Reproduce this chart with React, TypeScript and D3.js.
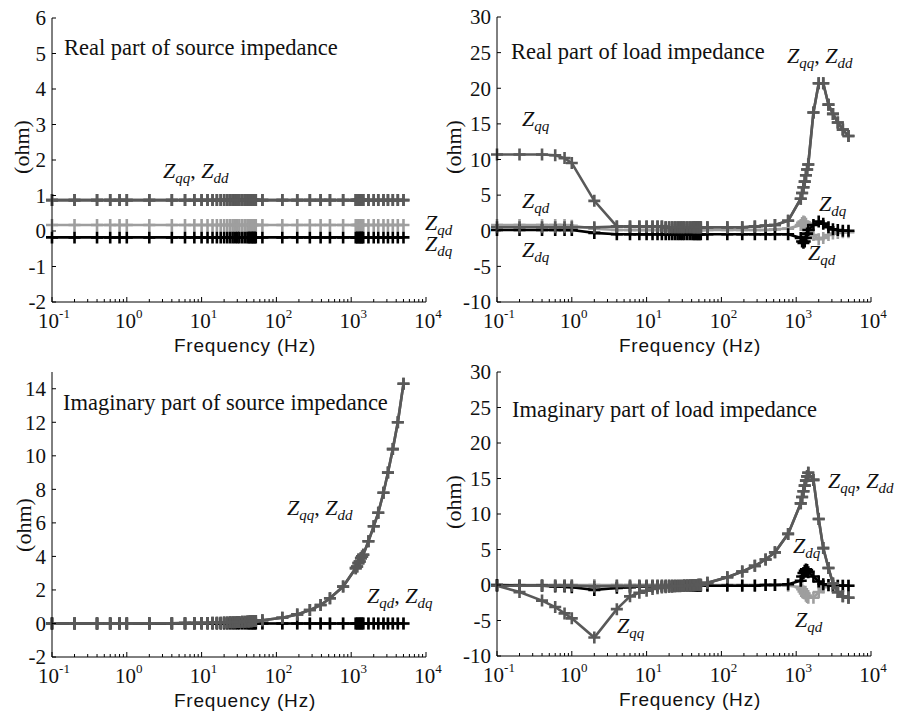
import React from "react";
import * as d3 from "d3";

// perturbation frequencies (Hz), shared by every panel
const FREQ = [
  0.1, 0.2, 0.4, 0.6, 0.8, 1,
  2, 4, 6, 8,
  10, 12, 14, 16, 18, 20, 22, 24, 26, 28, 30, 32, 35, 38,
  41, 43, 45, 47, 49, 51, 53,
  65, 120, 190, 280, 390, 520, 780,
  1150, 1200, 1250, 1300, 1350, 1400, 1450,
  1700, 2000, 2300, 2700, 3100, 3600, 4200, 5000,
];

// real part of source impedance
const srcReZqq = [
  0.87, 0.87, 0.87, 0.87, 0.87, 0.87,
  0.87, 0.87, 0.87, 0.87,
  0.87, 0.87, 0.87, 0.87, 0.87, 0.87, 0.87, 0.87, 0.87, 0.87, 0.87, 0.87, 0.87, 0.87,
  0.87, 0.87, 0.87, 0.87, 0.87, 0.87, 0.87,
  0.87, 0.87, 0.87, 0.87, 0.87, 0.87, 0.87,
  0.87, 0.87, 0.87, 0.87, 0.87, 0.87, 0.87,
  0.87, 0.87, 0.87, 0.87, 0.87, 0.87, 0.87, 0.87,
];
const srcReZdd = srcReZqq;
const srcReZqd = [
  0.17, 0.17, 0.17, 0.17, 0.17, 0.17,
  0.17, 0.17, 0.17, 0.17,
  0.17, 0.17, 0.17, 0.17, 0.17, 0.17, 0.17, 0.17, 0.17, 0.17, 0.17, 0.17, 0.17, 0.17,
  0.17, 0.17, 0.17, 0.17, 0.17, 0.17, 0.17,
  0.17, 0.17, 0.17, 0.17, 0.17, 0.17, 0.17,
  0.17, 0.17, 0.17, 0.17, 0.17, 0.17, 0.17,
  0.17, 0.17, 0.17, 0.17, 0.17, 0.17, 0.17, 0.17,
];
const srcReZdq = [
  -0.18, -0.18, -0.18, -0.18, -0.18, -0.18,
  -0.18, -0.18, -0.18, -0.18,
  -0.18, -0.18, -0.18, -0.18, -0.18, -0.18, -0.18, -0.18, -0.18, -0.18, -0.18, -0.18, -0.18, -0.18,
  -0.18, -0.18, -0.18, -0.18, -0.18, -0.18, -0.18,
  -0.18, -0.18, -0.18, -0.18, -0.18, -0.18, -0.18,
  -0.18, -0.18, -0.18, -0.18, -0.18, -0.18, -0.18,
  -0.18, -0.18, -0.18, -0.18, -0.18, -0.18, -0.18, -0.18,
];

// real part of load impedance
const loadReZqq = [
  10.7, 10.7, 10.7, 10.6, 10.2, 9.5,
  4.2, 0.6, 0.6, 0.6,
  0.6, 0.6, 0.6, 0.6, 0.5, 0.5, 0.5, 0.5, 0.5, 0.5, 0.5, 0.5, 0.5, 0.5,
  0.5, 0.5, 0.5, 0.5, 0.5, 0.5, 0.5,
  0.5, 0.5, 0.5, 0.6, 0.7, 0.8, 1.4,
  4.5, 5.3, 6.1, 6.9, 7.8, 8.6, 9.3,
  16.6, 20.7, 20.7, 17.7, 16.4, 15.2, 14.2, 13.3,
];
const loadReZdd = [
  0.5, 0.5, 0.5, 0.5, 0.5, 0.5,
  0.5, 0.6, 0.6, 0.6,
  0.6, 0.6, 0.6, 0.6, 0.5, 0.5, 0.5, 0.5, 0.5, 0.5, 0.5, 0.5, 0.5, 0.5,
  0.5, 0.5, 0.5, 0.5, 0.5, 0.5, 0.5,
  0.5, 0.5, 0.5, 0.6, 0.7, 0.8, 1.4,
  4.5, 5.3, 6.1, 6.9, 7.8, 8.6, 9.3,
  16.6, 20.7, 20.7, 17.7, 16.4, 15.2, 14.2, 13.3,
];
const loadReZqd = [
  0.8, 0.8, 0.8, 0.8, 0.8, 0.7,
  0.3, 0.1, 0.1, 0.1,
  0.1, 0.1, 0.1, 0.1, 0.1, 0.1, 0.1, 0.1, 0.1, 0.1, 0.1, 0.1, 0.1, 0.1,
  0.1, 0.1, 0.1, 0.1, 0.1, 0.1, 0.1,
  0.1, 0.1, 0.1, 0.1, 0.1, 0.2, 0.3,
  0.8, 1.1, 1.3, 1.2, 1.0, 0.6, 0.2,
  -0.6, -1.2, -1.0, -0.6, -0.4, -0.3, -0.2, -0.2,
];
const loadReZdq = [
  0.1, 0.1, 0.1, 0.1, 0.1, 0.1,
  -0.3, -0.5, -0.5, -0.5,
  -0.5, -0.5, -0.5, -0.5, -0.5, -0.5, -0.5, -0.5, -0.5, -0.5, -0.5, -0.5, -0.5, -0.5,
  -0.5, -0.5, -0.5, -0.5, -0.5, -0.5, -0.5,
  -0.5, -0.5, -0.5, -0.5, -0.5, -0.5, -0.5,
  -1.0, -1.5, -1.7, -1.5, -1.0, -0.4, 0.1,
  0.8, 1.3, 1.0, 0.5, 0.2, 0.1, 0.0, 0.0,
];

// imaginary part of source impedance
const srcImZqq = [
  0, 0, 0, 0, 0, 0,
  0.01, 0.01, 0.02, 0.02,
  0.03, 0.03, 0.04, 0.05, 0.05, 0.06, 0.06, 0.07, 0.07, 0.08, 0.09, 0.09, 0.1, 0.11,
  0.12, 0.12, 0.13, 0.13, 0.14, 0.15, 0.15,
  0.19, 0.34, 0.54, 0.8, 1.1, 1.5, 2.2,
  3.3, 3.4, 3.6, 3.7, 3.9, 4.0, 4.1,
  4.9, 5.8, 6.6, 7.8, 9.0, 10.4, 12.0, 14.3,
];
const srcImZdd = srcImZqq;
const srcImZqd = [
  0, 0, 0, 0, 0, 0,
  0, 0, 0, 0,
  0, 0, 0, 0, 0, 0, 0, 0, 0, 0, 0, 0, 0, 0,
  0, 0, 0, 0, 0, 0, 0,
  0, 0, 0, 0, 0, 0, 0,
  0, 0, 0, 0, 0, 0, 0,
  0, 0, 0, 0, 0, 0, 0, 0,
];
const srcImZdq = srcImZqd;

// imaginary part of load impedance
const loadImZqq = [
  -0.1, -1.0, -2.2, -3.1, -4.0, -4.7,
  -7.4, -3.4, -1.6, -1.1,
  -0.8, -0.55, -0.45, -0.35, -0.3, -0.25, -0.22, -0.2, -0.18, -0.16, -0.14, -0.12, -0.1, -0.08,
  -0.05, -0.03, 0, 0, 0.02, 0.04, 0.05,
  0.3, 1.1, 1.9, 2.7, 3.6, 4.6, 7.2,
  11.5, 12.4, 13.2, 14.0, 14.7, 15.3, 15.8,
  14.8, 9.3, 5.2, 2.4, 0.2, -1.0, -1.6, -1.8,
];
const loadImZdd = [
  -0.1, -0.1, -0.1, -0.1, -0.1, -0.1,
  -0.2, -0.15, -0.15, -0.15,
  -0.15, -0.15, -0.15, -0.15, -0.15, -0.15, -0.15, -0.15, -0.15, -0.14, -0.13, -0.12, -0.1, -0.08,
  -0.05, -0.03, 0, 0, 0.02, 0.04, 0.05,
  0.3, 1.1, 1.9, 2.7, 3.6, 4.6, 7.2,
  11.5, 12.4, 13.2, 14.0, 14.7, 15.3, 15.8,
  14.8, 9.3, 5.2, 2.4, 0.2, -1.0, -1.6, -1.8,
];
const loadImZqd = [
  0, 0, 0, 0, 0, 0,
  0, 0, 0, 0,
  0, 0, 0, 0, 0, 0, 0, 0, 0, 0, 0, 0, 0, 0,
  0, 0, 0, 0, 0, 0, 0,
  0, 0, 0, 0, 0, 0, -0.1,
  -0.3, -0.6, -0.9, -1.2, -1.5, -1.7, -1.8,
  -1.8, -1.0, -0.3, -0.1, -0.1, -0.1, -0.1, -0.1,
];
const loadImZdq = [
  0, -0.1, -0.1, -0.2, -0.2, -0.3,
  -0.7, -0.4, -0.3, -0.2,
  -0.2, -0.2, -0.2, -0.2, -0.2, -0.2, -0.2, -0.15, -0.15, -0.15, -0.15, -0.1, -0.1, -0.1,
  -0.1, -0.1, -0.1, -0.1, -0.1, -0.1, -0.1,
  -0.1, -0.1, -0.1, -0.1, 0, 0, 0.1,
  0.6, 1.2, 1.7, 2.0, 2.2, 2.1, 1.8,
  1.2, 0.5, 0.1, 0, -0.1, -0.1, -0.1, -0.1,
];

const DARK = "#595959";
const LIGHT = "#9e9e9e";
const BLACK = "#000000";
const SERIF = "'Liberation Serif', 'Times New Roman', serif";
const SANS = "'Liberation Sans', Arial, sans-serif";

type Series = { values: number[]; color: string };
type Note = { x: number; y: number; subs: string[] };

type PanelProps = {
  left: number;
  right: number;
  top: number;
  bottom: number;
  yDomain: [number, number];
  yTicks: number[];
  series: Series[];
  title: string;
  titleX: number;
  titleY: number;
  ylabelX: number;
  ylabelY: number;
  notes: Note[];
};

const ZLabel = ({ x, y, subs }: Note) => (
  <text x={x} y={y} fontFamily={SERIF} fontStyle="italic" fontSize={22} fill="#111">
    {subs.map((s, i) => (
      <React.Fragment key={i}>
        {i > 0 && (
          <tspan dy={-5} fontStyle="normal">
            {", "}
          </tspan>
        )}
        <tspan>Z</tspan>
        <tspan fontSize={15} dy={5}>
          {s}
        </tspan>
      </React.Fragment>
    ))}
  </text>
);

const Panel = ({
  left, right, top, bottom, yDomain, yTicks, series,
  title, titleX, titleY, ylabelX, ylabelY, notes,
}: PanelProps) => {
  const x = d3.scaleLog().domain([0.1, 10000]).range([left, right]);
  const y = d3.scaleLinear().domain(yDomain).range([bottom, top]);
  const line = d3
    .line<number>()
    .x((_, i) => x(FREQ[i]))
    .y((v) => y(v));
  const xTicks = x.ticks();
  const isMajor = (t: number) => Math.abs(Math.log10(t) - Math.round(Math.log10(t))) < 1e-6;
  const m = 6;

  return (
    <g>
      {series.map((s, k) => (
        <g key={k}>
          <path d={line(s.values) || ""} fill="none" stroke={s.color} strokeWidth={2.6} />
          {s.values.map((v, i) => (
            <path
              key={i}
              d={`M${x(FREQ[i]) - m},${y(v)}H${x(FREQ[i]) + m}M${x(FREQ[i])},${y(v) - m}V${y(v) + m}`}
              stroke={s.color}
              strokeWidth={2.6}
            />
          ))}
        </g>
      ))}

      {/* axes */}
      <line x1={left} x2={left} y1={top} y2={bottom} stroke="#000" strokeWidth={1} />
      <line x1={left} x2={right} y1={bottom} y2={bottom} stroke="#000" strokeWidth={1} />
      {yTicks.map((t) => (
        <g key={t}>
          <line x1={left} x2={left + 4} y1={y(t)} y2={y(t)} stroke="#000" />
          <text
            x={left - 6}
            y={y(t)}
            dy="0.35em"
            textAnchor="end"
            fontFamily={SERIF}
            fontSize={21}
            fill="#111"
          >
            {t}
          </text>
        </g>
      ))}
      {xTicks.map((t, i) => (
        <line
          key={i}
          x1={x(t)}
          x2={x(t)}
          y1={bottom}
          y2={bottom - (isMajor(t) ? 5 : 3)}
          stroke="#000"
        />
      ))}
      {xTicks.filter(isMajor).map((t) => (
        <text
          key={t}
          x={x(t) + 2}
          y={bottom + 26}
          textAnchor="middle"
          fontFamily={SERIF}
          fontSize={21}
          fill="#111"
        >
          10
          <tspan dy={-10} fontSize={13}>
            {Math.round(Math.log10(t))}
          </tspan>
        </text>
      ))}
      <text
        x={(left + right) / 2 + 6}
        y={bottom + 50}
        textAnchor="middle"
        fontFamily={SANS}
        fontSize={19}
        letterSpacing={0.8}
        fill="#111"
      >
        Frequency (Hz)
      </text>
      <text
        transform={`translate(${ylabelX},${ylabelY}) rotate(-90)`}
        textAnchor="middle"
        fontFamily={SERIF}
        fontSize={22}
        fill="#111"
      >
        (ohm)
      </text>
      <text x={titleX} y={titleY} fontFamily={SERIF} fontSize={22.5} fill="#111">
        {title}
      </text>
      {notes.map((n, i) => (
        <ZLabel key={i} {...n} />
      ))}
    </g>
  );
};

const seriesOf = (qd: number[], dq: number[], dd: number[], qq: number[]): Series[] => [
  { values: qd, color: LIGHT },
  { values: dq, color: BLACK },
  { values: dd, color: DARK },
  { values: qq, color: DARK },
];

export default function App() {
  return (
    <svg
      width={909}
      height={713}
      style={{ position: "absolute", left: 0, top: 0, background: "#fff" }}
    >
      <rect width={909} height={713} fill="#fff" />
      <Panel
        left={52}
        right={426}
        top={18}
        bottom={302}
        yDomain={[-2, 6]}
        yTicks={[-2, -1, 0, 1, 2, 3, 4, 5, 6]}
        series={seriesOf(srcReZqd, srcReZdq, srcReZdd, srcReZqq)}
        title="Real part of source impedance"
        titleX={64}
        titleY={55}
        ylabelX={29}
        ylabelY={147}
        notes={[
          { x: 163, y: 178, subs: ["qq", "dd"] },
          { x: 425, y: 230, subs: ["qd"] },
          { x: 425, y: 251, subs: ["dq"] },
        ]}
      />
      <Panel
        left={497}
        right={871}
        top={17}
        bottom={302}
        yDomain={[-10, 30]}
        yTicks={[-10, -5, 0, 5, 10, 15, 20, 25, 30]}
        series={seriesOf(loadReZqd, loadReZdq, loadReZdd, loadReZqq)}
        title="Real part of load impedance"
        titleX={511}
        titleY={59}
        ylabelX={461}
        ylabelY={147}
        notes={[
          { x: 787, y: 63, subs: ["qq", "dd"] },
          { x: 522, y: 126, subs: ["qq"] },
          { x: 522, y: 208, subs: ["qd"] },
          { x: 522, y: 257, subs: ["dq"] },
          { x: 819, y: 211, subs: ["dq"] },
          { x: 808, y: 260, subs: ["qd"] },
        ]}
      />
      <Panel
        left={52}
        right={426}
        top={372}
        bottom={657}
        yDomain={[-2, 15]}
        yTicks={[-2, 0, 2, 4, 6, 8, 10, 12, 14]}
        series={seriesOf(srcImZqd, srcImZdq, srcImZdd, srcImZqq)}
        title="Imaginary part of source impedance"
        titleX={63}
        titleY={410}
        ylabelX={31}
        ylabelY={525}
        notes={[
          { x: 287, y: 515, subs: ["qq", "dd"] },
          { x: 367, y: 603, subs: ["qd", "dq"] },
        ]}
      />
      <Panel
        left={497}
        right={871}
        top={372}
        bottom={656}
        yDomain={[-10, 30]}
        yTicks={[-10, -5, 0, 5, 10, 15, 20, 25, 30]}
        series={seriesOf(loadImZqd, loadImZdq, loadImZdd, loadImZqq)}
        title="Imaginary part of load impedance"
        titleX={512}
        titleY={417}
        ylabelX={461}
        ylabelY={502}
        notes={[
          { x: 828, y: 488, subs: ["qq", "dd"] },
          { x: 793, y: 553, subs: ["dq"] },
          { x: 795, y: 627, subs: ["qd"] },
          { x: 617, y: 633, subs: ["qq"] },
        ]}
      />
    </svg>
  );
}
